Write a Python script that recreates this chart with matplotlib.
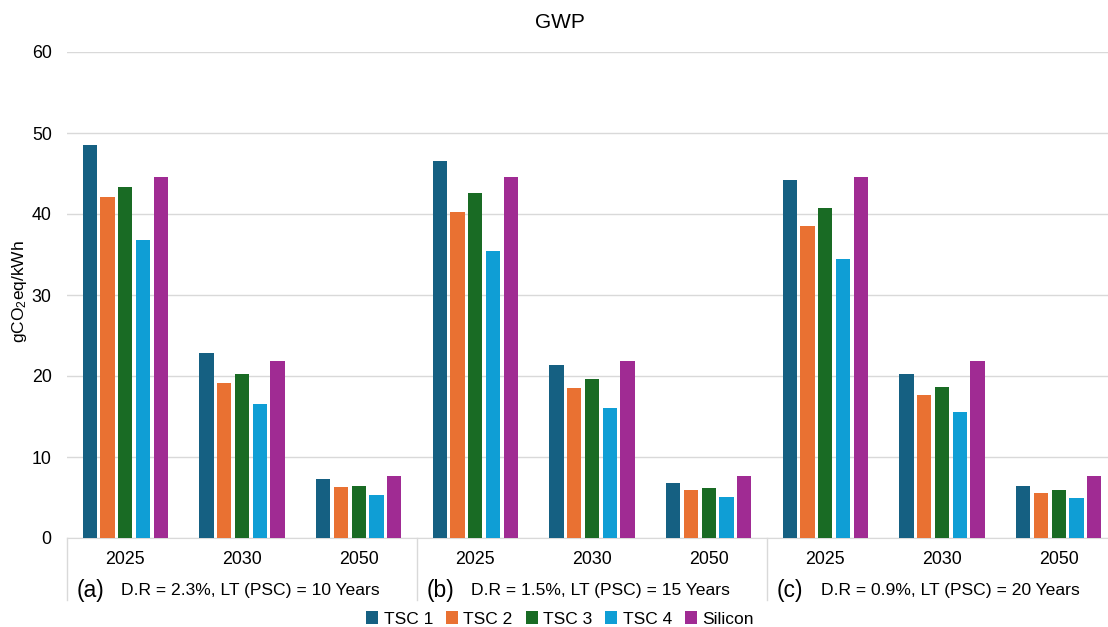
import matplotlib
matplotlib.use("Agg")
import matplotlib.pyplot as plt
import numpy as np

plt.rcParams['font.family'] = ['Liberation Sans', 'DejaVu Sans']

years = ['2025', '2030', '2050', '2025', '2030', '2050', '2025', '2030', '2050']
scenarios = ['D.R = 2.3%, LT (PSC) = 10 Years',
             'D.R = 1.5%, LT (PSC) = 15 Years',
             'D.R = 0.9%, LT (PSC) = 20 Years']
scen_tags = ['(a)', '(b)', '(c)']
series = ['TSC 1', 'TSC 2', 'TSC 3', 'TSC 4', 'Silicon']
colors = ['#156082', '#E97132', '#196B24', '#0F9ED5', '#A02B93']

tsc1 = [48.5, 22.8, 7.3, 46.5, 21.4, 6.8, 44.2, 20.2, 6.4]
tsc2 = [42.1, 19.1, 6.3, 40.3, 18.5, 5.9, 38.5, 17.6, 5.6]
tsc3 = [43.3, 20.2, 6.4, 42.6, 19.6, 6.2, 40.7, 18.7, 5.9]
tsc4 = [36.8, 16.5, 5.3, 35.4, 16.0, 5.1, 34.5, 15.5, 4.9]
silicon = [44.6, 21.8, 7.7, 44.6, 21.8, 7.7, 44.6, 21.8, 7.7]
values = [tsc1, tsc2, tsc3, tsc4, silicon]

fig = plt.figure(figsize=(11.08, 6.27), dpi=100)
# plot area runs past the right edge (cropped chart)
ax = fig.add_axes([67 / 1108, 89 / 627, 1050 / 1108, 486 / 627])

x = np.arange(len(years))
step = 0.152
for k, (name, vals, c) in enumerate(zip(series, values, colors)):
    ax.bar(x + (k - 2) * step, vals, width=0.122, color=c, label=name, zorder=3)

ax.set_xlim(-0.5, 8.5)
ax.set_ylim(0, 60)
ax.set_yticks(range(0, 61, 10))
ax.yaxis.grid(True, color='#d9d9d9', linewidth=1, zorder=0)
ax.tick_params(axis='y', length=0, pad=11, labelsize=12.8)
ax.set_xticks(x)
ax.set_xticklabels(years, fontsize=12.8)
ax.tick_params(axis='x', length=0, pad=9)
for s in ['top', 'right', 'left']:
    ax.spines[s].set_visible(False)
ax.spines['bottom'].set_color('#d9d9d9')

# group separators and second-level labels
for g in range(4):
    ax.plot([g * 3 - 0.5, g * 3 - 0.5], [0, -0.128], transform=ax.get_xaxis_transform(),
            color='#d9d9d9', linewidth=1, clip_on=False)
for g in range(3):
    ax.text(g * 3 - 0.414, -0.107, scen_tags[g], transform=ax.get_xaxis_transform(),
            fontsize=16.5, ha='left', va='center')
    ax.text(g * 3 - 0.04, -0.107, scenarios[g], transform=ax.get_xaxis_transform(),
            fontsize=12.6, ha='left', va='center')

fig.text(560 / 1108, 1 - 22 / 627, 'GWP', fontsize=15, ha='center', va='center')
fig.text(20 / 1108, 1 - 292 / 627, r'$\mathregular{gCO_2eq/kWh}$', fontsize=12.5,
         rotation=90, ha='center', va='center')

fig.legend(loc='center', bbox_to_anchor=(560 / 1108, 1 - 619 / 627), ncol=5, frameon=False,
           fontsize=12.5, handlelength=0.7, handleheight=0.7, handletextpad=0.3,
           columnspacing=0.75)

fig.savefig('out.png', dpi=100)
